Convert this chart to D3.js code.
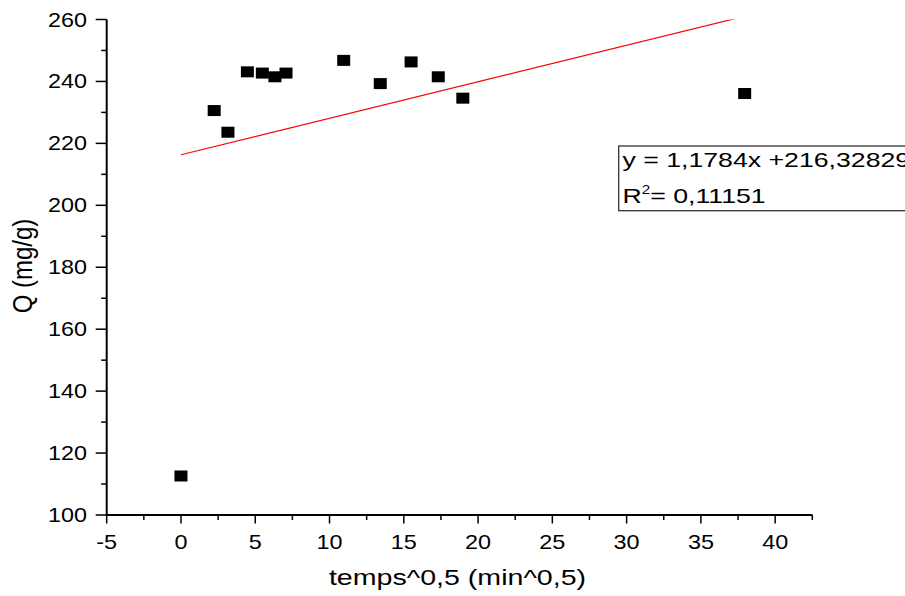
<!DOCTYPE html>
<html>
<head>
<meta charset="utf-8">
<script src="https://cdn.jsdelivr.net/npm/d3@7"></script>
<style>
  html, body { margin: 0; padding: 0; background: #fff; }
  svg { display: block; font-family: 'Liberation Sans', Arial, sans-serif; }
</style>
</head>
<body>
<div id="chart"></div>
<script>
// temps^0,5 (min^0,5) and Q (mg/g)
const sqrtTime = [0, 2.236, 3.162, 4.472, 5.477, 6.325, 7.071, 10.954, 13.416, 15.492, 17.321, 18.974, 37.947]
const qValues = [112.6, 230.6, 223.6, 243.1, 242.7, 241.5, 242.7, 246.8, 239.3, 246.3, 241.5, 234.6, 236.1]

// linear fit shown in the box
const fitSlope = 1.1784
const fitIntercept = 216.32829
const fitRange = [0, 37.947]
const fitLabel = 'y = 1,1784x +216,32829'
const r2Label = '= 0,11151'

const xTicks = [-5, 0, 5, 10, 15, 20, 25, 30, 35, 40]
const yTicks = [100, 120, 140, 160, 180, 200, 220, 240, 260]
const xTitle = 'temps^0,5 (min^0,5)'
const yTitle = 'Q (mg/g)'

let w = 905,
  h = 596

let svg = d3.select('#chart').append('svg')
  .attr('width', w)
  .attr('height', h)

let x = d3.scaleLinear().domain([-5, 42.5]).range([106.7, 812.3])
let y = d3.scaleLinear().domain([100, 260]).range([515, 19.5])

let x0 = x.range()[0],
  y0 = y.range()[0]

// clip for the fit line
svg.append('clipPath').attr('id', 'plot')
  .append('rect')
  .attr('x', x0)
  .attr('y', y(260))
  .attr('width', x.range()[1] - x0)
  .attr('height', y0 - y(260))

// fit line
svg.append('line')
  .attr('clip-path', 'url(#plot)')
  .attr('x1', x(fitRange[0]))
  .attr('y1', y(fitSlope * fitRange[0] + fitIntercept))
  .attr('x2', x(fitRange[1]))
  .attr('y2', y(fitSlope * fitRange[1] + fitIntercept))
  .attr('stroke', '#ff0000')
  .attr('stroke-width', 1.2)

// points
svg.append('g')
  .selectAll('rect')
  .data(sqrtTime.map((t, i) => [t, qValues[i]]))
  .enter()
  .append('rect')
  .attr('x', d => x(d[0]) - 6.5)
  .attr('y', d => y(d[1]) - 5.5)
  .attr('width', 13)
  .attr('height', 11)
  .attr('fill', '#000')

// axes lines
let axis = svg.append('g').attr('stroke', '#000').attr('stroke-width', 2)
axis.append('line')
  .attr('x1', x0).attr('x2', x0)
  .attr('y1', y(260)).attr('y2', y0)
axis.append('line')
  .attr('x1', x0 - 1).attr('x2', x.range()[1])
  .attr('y1', y0).attr('y2', y0)

// x ticks
let xMinor = d3.range(-5, 42.51, 2.5)
axis.selectAll('.xt')
  .data(xMinor)
  .enter()
  .append('line')
  .attr('x1', d => x(d)).attr('x2', d => x(d))
  .attr('y1', y0)
  .attr('y2', d => y0 + (d % 5 === 0 ? 8.5 : 5))
  .attr('stroke-width', 1.5)

// y ticks
let yMinor = d3.range(100, 260.1, 10)
axis.selectAll('.yt')
  .data(yMinor)
  .enter()
  .append('line')
  .attr('y1', d => y(d)).attr('y2', d => y(d))
  .attr('x1', x0)
  .attr('x2', d => x0 - (d % 20 === 0 ? 11 : 5.5))
  .attr('stroke-width', 1.5)

// tick labels (stretched sideways like the original)
svg.append('g')
  .selectAll('text')
  .data(xTicks)
  .enter()
  .append('text')
  .attr('transform', d => `translate(${x(d)}, 549) scale(1.17, 1)`)
  .attr('text-anchor', 'middle')
  .attr('font-size', 20)
  .text(d => d)

svg.append('g')
  .selectAll('text')
  .data(yTicks)
  .enter()
  .append('text')
  .attr('transform', d => `translate(87, ${y(d)}) scale(1.17, 1)`)
  .attr('text-anchor', 'end')
  .attr('dy', '0.35em')
  .attr('font-size', 20)
  .text(d => d)

// axis titles
svg.append('text')
  .attr('transform', `translate(457.5, 585) scale(1.3, 1)`)
  .attr('text-anchor', 'middle')
  .attr('font-size', 22)
  .text(xTitle)

svg.append('text')
  .attr('transform', 'translate(32, 266) scale(1.15, 1) rotate(-90)')
  .attr('text-anchor', 'middle')
  .attr('font-size', 24)
  .text(yTitle)

// fit box
svg.append('rect')
  .attr('x', 618.7)
  .attr('y', 146)
  .attr('width', 320)
  .attr('height', 64.7)
  .attr('fill', '#fff')
  .attr('stroke', '#333')
  .attr('stroke-width', 1.3)

svg.append('text')
  .attr('transform', 'translate(622.5, 166.5) scale(1.27, 1)')
  .attr('font-size', 21)
  .text(fitLabel)

let r2 = svg.append('text')
  .attr('transform', 'translate(622.5, 203) scale(1.27, 1)')
  .attr('font-size', 21)
r2.append('tspan').text('R')
r2.append('tspan').attr('font-size', 12).attr('dy', -9).text('2')
r2.append('tspan').attr('dy', 9).text(r2Label)
</script>
</body>
</html>
